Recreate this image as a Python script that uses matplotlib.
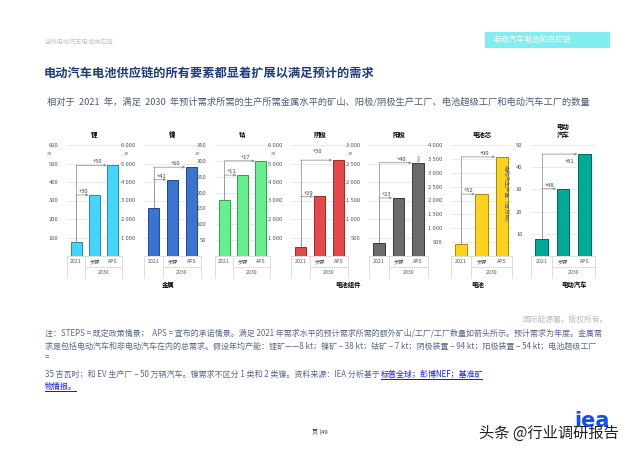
import matplotlib.pyplot as plt
from matplotlib.patches import Rectangle
import numpy as np

plt.rcParams['font.family'] = ['Noto Sans CJK SC', 'DejaVu Sans']

W, H = 640, 453

# data
titles = ['锂', '镍', '钴', '阴极', '阳极', '电池芯', '电动\n汽车']
lithium = [78, 330, 490]
nickel = [2570, 4125, 4800]
cobalt = [178, 255, 300]
cathode = [510, 3220, 5180]
anode = [350, 1570, 2520]
cells = [430, 2230, 3570]
ev = [7.5, 30.3, 45.9]
steps_add = [30, 41, 11, 29, 23, 52, 48]
aps_add = [50, 60, 17, 50, 40, 90, 81]
scen_labels = ['2021', '步骤', 'APS']
year_label = '2030'
ymax = [600, 6000, 350, 6000, 3000, 4000, 50]
ystep = [100, 1000, 50, 1000, 500, 500, 10]
units = ['kt', 'kt', 'kt', 'kt', 'kt', 'GWh', '']
groups = ['金属', '电池组件', '电池', '电动汽车']
group_x = [168, 348, 478, 574]

values = [lithium, nickel, cobalt, cathode, anode, cells, ev]
colors = ['#45d5fb', '#3a74d2', '#66ef8e', '#e54848', '#6b6b6b', '#fcd21e', '#00aa98']
edges = ['#2a8aa8', '#24488a', '#3a9a55', '#9a2a2a', '#3a3a3a', '#a88a10', '#00665c']

# panel placement in pixels (left, width)
panel_px = [(67, 55), (144, 57), (215, 55), (291, 57), (369, 59), (451, 61), (531, 64)]
y_top, y_bot = 145, 256


def fx(x):
    return x / W


def fy(y):
    return 1 - y / H


def fmt(v):
    return f'{int(v):,}'.replace(',', ' ')


fig = plt.figure(figsize=(6.4, 4.53), dpi=100)

# header
fig.text(fx(45), fy(43), '全球电动汽车电池供应链', fontsize=4.5, color='#c4c4c4', va='center')
fig.patches.append(Rectangle((fx(485), fy(48)), fx(125), (48 - 32) / H, transform=fig.transFigure,
                             facecolor='#80eef0', edgecolor='none'))
fig.text(fx(493), fy(40), '电动汽车电池和供应链', fontsize=5.6, color='white', va='center')
fig.text(fx(44), fy(73), '电动汽车电池供应链的所有要素都显着扩展以满足预计的需求', fontsize=8.8,
         color='#1e3c78', va='center', fontweight='bold')
fig.text(fx(47), fy(102), '相对于  2021  年，满足  2030  年预计需求所需的生产所需金属水平的矿山、阳极/阴极生产工厂、电池超级工厂和电动汽车工厂的数量',
         fontsize=6.65, color='#4a5a78', va='center')

for i in range(7):
    left, width = panel_px[i]
    ax = fig.add_axes([fx(left), fy(y_bot), fx(width), (y_bot - y_top) / H])
    vals = values[i]
    x = np.arange(3)
    ax.bar(x, vals, width=0.6, color=colors[i], edgecolor=edges[i], linewidth=0.7, zorder=3)
    ax.set_xlim(-0.5, 2.5)
    ax.set_ylim(0, ymax[i])
    ticks = np.arange(ystep[i], ymax[i] + 1, ystep[i])
    ax.set_yticks(ticks)
    ax.set_yticklabels([fmt(t) for t in ticks])
    ax.tick_params(axis='y', length=0, labelsize=4.2, labelcolor='#555555', pad=6)
    ax.set_xticks([])
    for s in ax.spines.values():
        s.set_visible(False)
    ax.grid(axis='y', color='#e6e6e6', linewidth=0.6, zorder=0)
    ax.set_axisbelow(True)
    ax.set_title(titles[i], fontsize=4.6, fontweight='bold', pad=6, linespacing=1.1)

    # arrows showing additional capacity
    adds = [steps_add[i], aps_add[i]]
    for k, t in enumerate([1, 2]):
        ax.plot([0, 0], [vals[0], vals[t]], color='#999999', linewidth=0.6, zorder=2)
        ax.annotate('', xy=(t - 0.32, vals[t]), xytext=(0, vals[t]),
                    arrowprops=dict(arrowstyle='-|>', color='#999999', lw=0.6,
                                    mutation_scale=3.5, shrinkA=0, shrinkB=0), zorder=2)
        if i == 6 and t == 2:
            ax.text(1.3, vals[t] - ymax[i] * 0.04, f'+{adds[k]}', fontsize=4.2, ha='center',
                    va='top', color='#444444')
        elif i == 3 and t == 2:
            ax.text(0.9, vals[t] + ymax[i] * 0.06, f'+{adds[k]}', fontsize=4.2, ha='center',
                    va='bottom', color='#444444')
        else:
            ax.text(0.15 + (t - 1) * 1.0, vals[t] + ymax[i] * 0.008, f'+{adds[k]}', fontsize=4.2,
                    ha='center' if t == 2 else 'left', va='bottom', color='#444444')

    # category box under the bars
    tr = ax.get_xaxis_transform()
    lc = '#d8d8d8'
    r1, r2 = -0.1, -0.2
    ax.plot([-0.5, 2.5], [0, 0], color=lc, lw=0.6, transform=tr, clip_on=False)
    ax.plot([-0.5, -0.5], [0, r2], color=lc, lw=0.6, transform=tr, clip_on=False)
    ax.plot([2.5, 2.5], [0, r2], color=lc, lw=0.6, transform=tr, clip_on=False)
    ax.plot([0.5, 0.5], [0, r2], color=lc, lw=0.6, transform=tr, clip_on=False)
    ax.plot([0.5, 2.5], [r1, r1], color=lc, lw=0.6, transform=tr, clip_on=False)
    for k in range(3):
        ax.text(k, -0.05, scen_labels[k], fontsize=3.8, ha='center', va='center',
                color='#555555', transform=tr)
    ax.text(1.5, -0.15, year_label, fontsize=3.8, ha='center', va='center', color='#555555',
            transform=tr)

    if units[i] == 'GWh':
        ax.text(-0.52, 0.88, units[i], fontsize=3.0, color='#777777', transform=ax.transAxes,
                ha='center', va='center', rotation=90)
    elif units[i]:
        ax.text(-0.3, 0.94, units[i], fontsize=3.2, color='#777777', transform=ax.transAxes,
                ha='center', va='center', rotation=90)

fig.text(fx(506), fy(195), '电动汽车产量（百万辆）', fontsize=4.0, color='#666666', rotation=-90,
         ha='center', va='center')

for g, gx in zip(groups, group_x):
    fig.text(fx(gx), fy(284), g, fontsize=4.6, fontweight='bold', ha='center', va='center')

fig.text(fx(608), fy(320), '国际能源署。版权所有。', fontsize=5.6, color='#bdbdbd', ha='right', va='center')

note_c = '#5a6690'
link_c = '#1a1aff'
fs = 5.75
fig.text(fx(45), fy(333), '注：STEPS = 既定政策情景；  APS = 宣布的承诺情景。满足 2021 年需求水平的预计需求所需的额外矿山/工厂/工厂数量如箭头所示。预计需求为年度。金属需',
         fontsize=fs, color=note_c, va='center')
fig.text(fx(45), fy(346), '求是包括电动汽车和非电动汽车在内的总需求。假设年均产能：锂矿——8 kt；镍矿 – 38 kt；钴矿 – 7 kt；阴极装置 – 94 kt；阳极装置 – 54 kt；电池超级工厂',
         fontsize=fs, color=note_c, va='center')
fig.text(fx(45), fy(357), '=', fontsize=fs, color=note_c, va='center')
t4 = fig.text(fx(45), fy(374), '35 吉瓦时；和 EV 生产厂 – 50 万辆汽车。镍需求不区分 1 类和 2 类镍。资料来源：IEA 分析基于',
              fontsize=fs, color=note_c, va='center')

# place the link right after the plain text
fig.canvas.draw()
bb = t4.get_window_extent()
lx = bb.x1 + 1
link1 = fig.text(lx / W, fy(374), '标普全球；彭博NEF；基准矿', fontsize=fs, color=link_c, va='center')
link2 = fig.text(fx(45), fy(386), '物情报。', fontsize=fs, color=link_c, va='center')
fig.canvas.draw()
for lk, yy in [(link1, 379.5), (link2, 391.5)]:
    b = lk.get_window_extent()
    fig.patches.append(Rectangle((b.x0 / W, fy(yy)), (b.x1 - b.x0) / W, 0.6 / H,
                                 transform=fig.transFigure, facecolor=link_c, edgecolor='none'))

fig.text(fx(320), fy(432), '页 |49', fontsize=4.3, color='#333333', ha='center', va='center')
fig.text(fx(592), fy(421), 'iea', fontsize=15, fontweight='bold', color='#0b4fff', ha='center',
         va='center', family='DejaVu Sans', zorder=1)
fig.text(fx(479), fy(433), '头条 @行业调研报告', fontsize=11, color='#222222', va='center', zorder=5)

fig.savefig('out.png', dpi=100)
